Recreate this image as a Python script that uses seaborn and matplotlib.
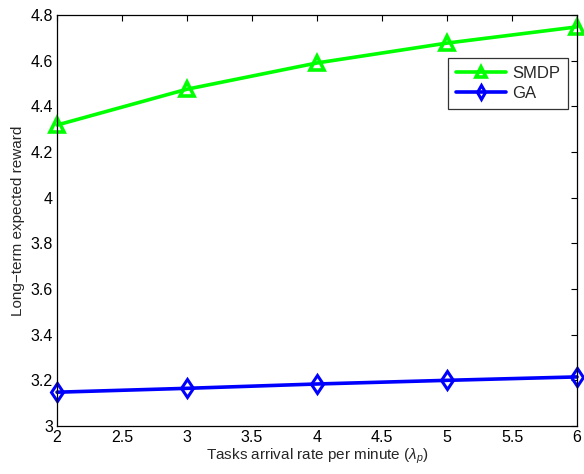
import pandas as pd
import matplotlib.pyplot as plt
import seaborn as sns

# data
arrival_rate = [2, 3, 4, 5, 6]
smdp_reward = [4.318, 4.475, 4.59, 4.677, 4.748]
ga_reward = [3.148, 3.165, 3.184, 3.200, 3.215]

sns.set_style('white')
plt.rcParams['font.family'] = ['Liberation Sans', 'DejaVu Sans']
plt.rcParams['mathtext.fontset'] = 'custom'
plt.rcParams['mathtext.rm'] = 'Liberation Sans'
plt.rcParams['mathtext.it'] = 'Liberation Sans:italic'

df = pd.DataFrame({'rate': arrival_rate, 'SMDP': smdp_reward, 'GA': ga_reward})

fig = plt.figure(figsize=(5.84, 4.74), dpi=100)
# axes box: x 57..577 px, y 15..426 px
ax = fig.add_axes([57 / 584, 48 / 474, 520 / 584, 411 / 474])

sns.lineplot(data=df, x='rate', y='SMDP', ax=ax, color=(0, 1, 0), lw=2.6,
             marker='^', markersize=10, markerfacecolor='none',
             markeredgecolor=(0, 1, 0), markeredgewidth=2.6, label='SMDP', clip_on=False)
sns.lineplot(data=df, x='rate', y='GA', ax=ax, color=(0, 0, 1), lw=2.6,
             marker='d', markersize=9.5, markerfacecolor='none',
             markeredgecolor=(0, 0, 1), markeredgewidth=2.2, label='GA', clip_on=False)

ax.set_xlim(2, 6)
ax.set_ylim(3, 4.8)
ax.set_xticks([2, 2.5, 3, 3.5, 4, 4.5, 5, 5.5, 6])
ax.set_xticklabels(['2', '2.5', '3', '3.5', '4', '4.5', '5', '5.5', '6'])
ax.set_yticks([3, 3.2, 3.4, 3.6, 3.8, 4, 4.2, 4.4, 4.6, 4.8])
ax.set_yticklabels(['3', '3.2', '3.4', '3.6', '3.8', '4', '4.2', '4.4', '4.6', '4.8'])
ax.tick_params(direction='in', top=True, right=True, length=4, width=0.8,
               labelsize=11.5, colors='black', pad=3)
for s in ax.spines.values():
    s.set_color('black')
    s.set_linewidth(0.9)

ax.set_xlabel('Tasks arrival rate per minute ($\\lambda_p$)', fontsize=11, labelpad=1)
ax.set_ylabel('Long\u2212term expected reward', fontsize=11, labelpad=4)

leg = ax.legend(loc='upper right', bbox_to_anchor=(568 / 584, (474 - 58) / 474),
                bbox_transform=fig.transFigure, fontsize=12,
                frameon=True, fancybox=False, edgecolor='black', handlelength=3.0,
                markerscale=0.75, borderaxespad=0, borderpad=0.45, labelspacing=0.35,
                handletextpad=0.4)
leg.get_frame().set_linewidth(0.9)

fig.savefig('out.png', dpi=100)
